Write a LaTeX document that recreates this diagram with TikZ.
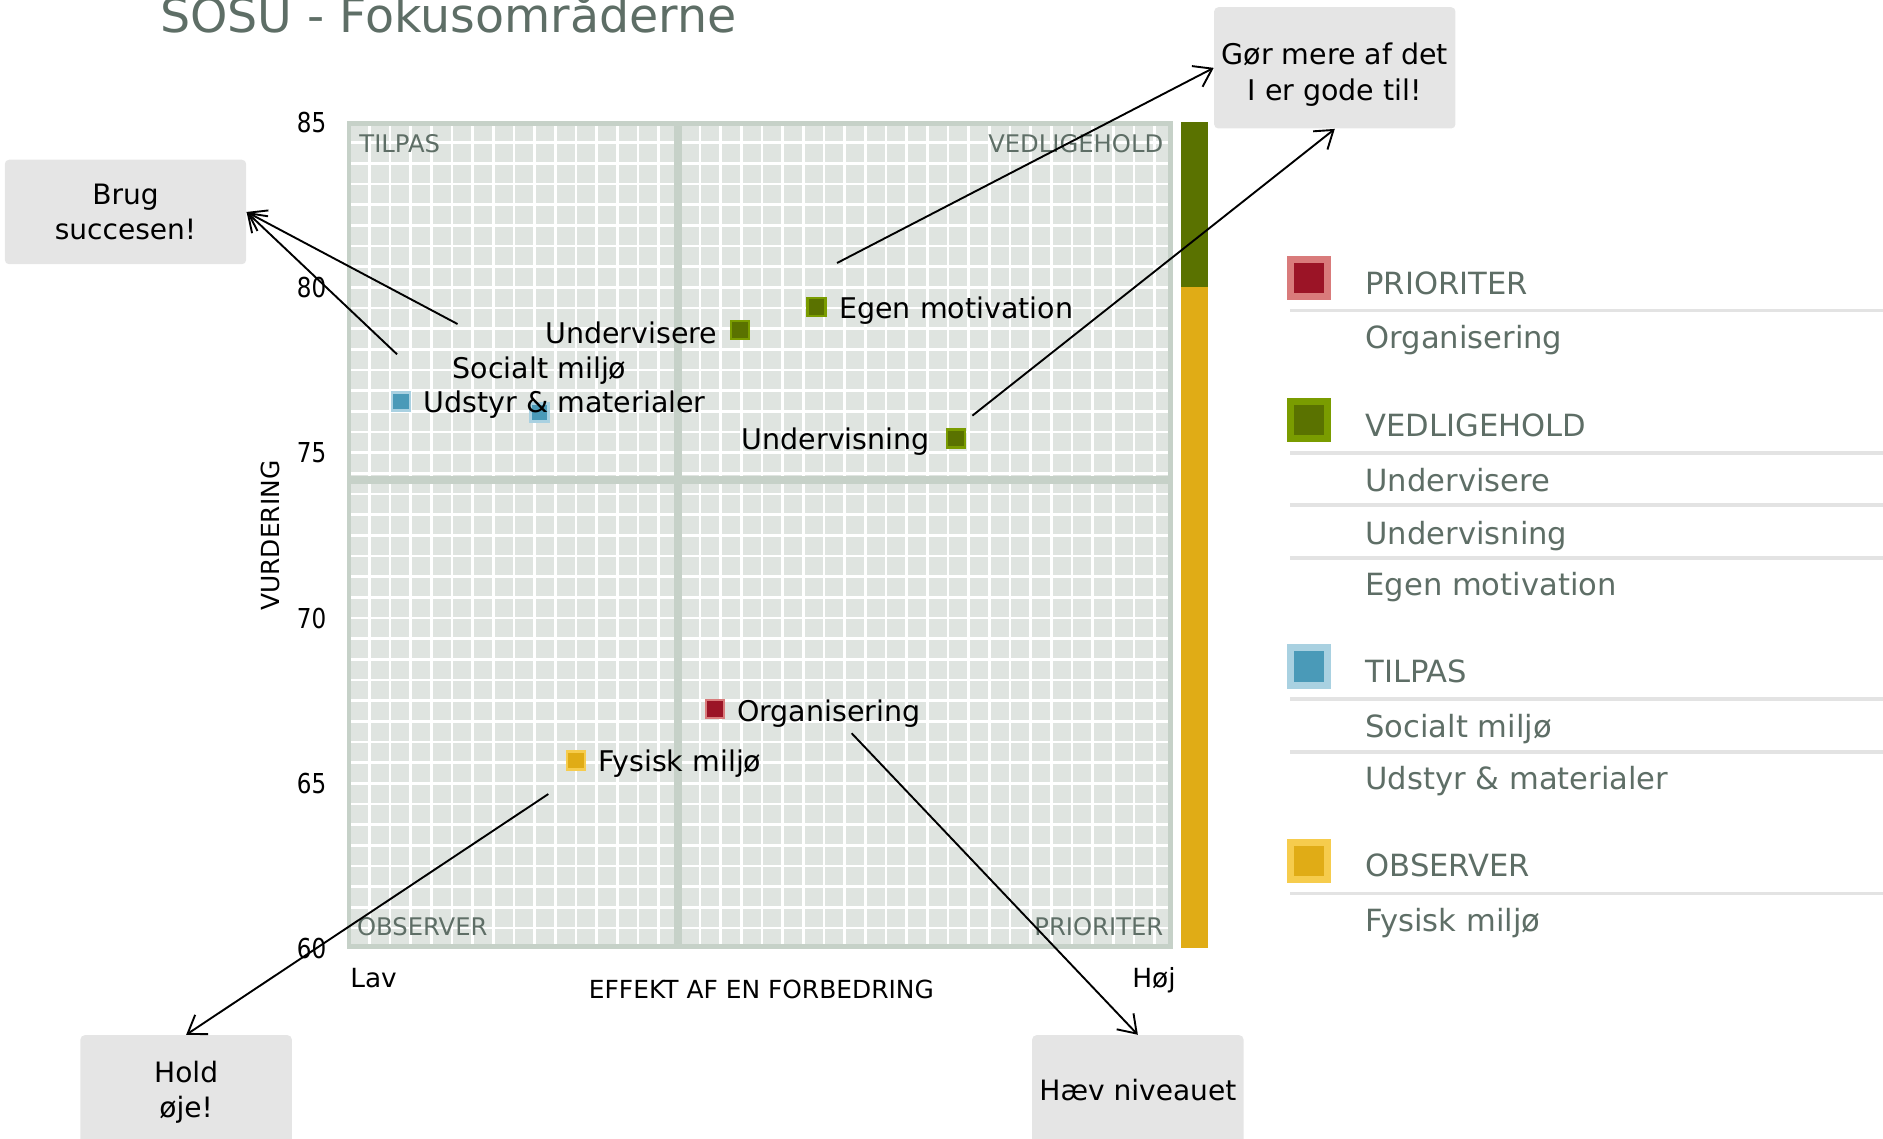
\documentclass[tikz,border=0pt]{standalone}
\usepackage{fontspec}
\setmainfont{DejaVu Sans}
\newfontfamily\narrowfont[FakeStretch=0.84]{DejaVu Sans}
\usetikzlibrary{arrows.meta}
\definecolor{txtgray}{HTML}{5E6E66}
\definecolor{plotbg}{HTML}{DFE4E0}
\definecolor{plotframe}{HTML}{C6D1C8}
\definecolor{boxgray}{HTML}{E5E5E5}
\definecolor{rulegray}{HTML}{E3E3E3}
\definecolor{prired}{HTML}{9B1426}
\definecolor{prirededge}{HTML}{D97B7B}
\definecolor{vedgreen}{HTML}{5A7200}
\definecolor{vedgreenedge}{HTML}{7A9C00}
\definecolor{tilblue}{HTML}{4A9AB8}
\definecolor{tilblueedge}{HTML}{A9D1E1}
\definecolor{obsyellow}{HTML}{E0AC16}
\definecolor{obsyellowedge}{HTML}{F6CC4D}

\begin{document}
\begin{tikzpicture}[x=0.02cm, y=-0.02cm,
            lbl/.style={font=\fontsize{13.5}{17}\selectfont, inner sep=0pt},
            quad/.style={font=\fontsize{11.5}{14}\selectfont, text=txtgray, inner sep=0pt},
            axis/.style={font=\fontsize{11.8}{14}\selectfont, inner sep=0pt},
            legtxt/.style={font=\fontsize{14.5}{17}\selectfont, text=txtgray, inner sep=0pt, anchor=base west},
            callout/.style={fill=boxgray, rounded corners=2pt, inner sep=0pt, align=center,
                            font=\fontsize{13.3}{17}\selectfont},
            sq/.style={draw=#1edge, fill=#1, line width=0.044cm, minimum size=0.3cm, inner sep=0pt},
            legsq/.style={draw=#1edge, fill=#1, line width=0.116cm, minimum size=0.618cm, inner sep=0pt},
            vec/.style={-{Straight Barb[length=8pt,width=11pt]}, line width=0.9pt}
            ]
        \useasboundingbox (0,0) rectangle (1568,948);

        % title
        \node[anchor=base west, inner sep=0pt, text=txtgray, font=\fontsize{22.5}{26}\selectfont]
            (title) at (133,27) {SOSU - Fokusområderne};

        % plot area with grid
        \fill[plotbg] (291,103) rectangle (975,788);
        \foreach \i in {1,...,39} {
            \draw[white, line width=0.044cm] ({290.3+17.21*\i},103) -- ++(0,685);
            \draw[white, line width=0.044cm] (291,{101.6+17.21*\i}) -- ++(684,0);
        }
        \draw[plotframe, line width=0.126cm] (564.5,103) -- (564.5,788)
                                             (291,399.5) -- (975,399.5);
        \draw[plotframe, line width=0.072cm] (290.8,102.8) rectangle (974.7,788.2);

        % side bar
        \fill[vedgreen] (983.3,101.6) rectangle (1006.2,239.3);
        \fill[obsyellow] (983.3,239.3) rectangle (1006.2,789);

        % quadrant names
        \node[quad, anchor=base west] (q-til) at (299,127) {TILPAS};
        \node[quad, anchor=base east] (q-ved) at (969,127) {VEDLIGEHOLD};
        \node[quad, anchor=base west] (q-obs) at (297,778.6) {OBSERVER};
        \node[quad, anchor=base east] (q-pri) at (969,778.6) {PRIORITER};

        % axes
        \foreach \v/\y in {85/101.6, 80/239.3, 75/377, 70/514.7, 65/652.4, 60/790}
            \node[axis, anchor=east, font=\narrowfont\fontsize{13}{15}\selectfont] (y\v) at (272,\y) {\v};
        \node[axis, rotate=90] (ylabel) at (225,446) {VURDERING};
        \node[axis, anchor=base west, font=\fontsize{12.5}{15}\selectfont] (lav) at (291.4,822) {Lav};
        \node[axis, anchor=base west, font=\fontsize{12.5}{15}\selectfont] (hoj) at (942.5,822) {Høj};
        \node[axis, anchor=base] (xlabel) at (634,831.3) {EFFEKT AF EN FORBEDRING};

        % data points
        \node[sq=vedgreen] (p-und) at (616.2,274.8) {};
        \node[sq=vedgreen] (p-egen) at (680,255.6) {};
        \node[sq=vedgreen] (p-undv) at (796,365) {};
        \node[sq=tilblue] (p-udst) at (334,334.5) {};
        \node[sq=tilblue] (p-soc) at (449,343.6) {};
        \node[sq=prired] (p-org) at (595.4,590.4) {};
        \node[sq=obsyellow] (p-fys) at (479.5,633) {};

        \node[lbl, anchor=base east] (l-und) at (597.6,285.9) {Undervisere};
        \node[lbl, anchor=base west] (l-egen) at (698.6,265) {Egen motivation};
        \node[lbl, anchor=base east] (l-undv) at (774.6,374.7) {Undervisning};
        \node[lbl, anchor=base west] (l-soc) at (376.7,315) {Socialt miljø};
        \node[lbl, anchor=base west] (l-udst) at (352.5,343.6) {Udstyr \& materialer};
        \node[lbl, anchor=base west] (l-org) at (613.4,601) {Organisering};
        \node[lbl, anchor=base west] (l-fys) at (498.2,642.6) {Fysisk miljø};

        % callouts
        \node[callout, minimum width=4.02cm, minimum height=2.02cm,
              label={[lbl, align=center, yshift=-0.12cm]center:{Gør mere af det\\I er gode til!}}]
            (gode) at (1111.5,56.5) {};
        \node[callout, minimum width=4.02cm, minimum height=1.74cm] (brug) at (104.5,176.5) {Brug\\succesen!};
        \node[callout, minimum width=3.52cm, minimum height=1.9cm] (hold) at (155,909.5) {Hold\\øje!};
        \node[callout, minimum width=3.52cm, minimum height=1.82cm] (haev) at (947.5,907.5) {Hæv niveauet};

        \path coordinate (a-soc) at (381,269.8)
              coordinate (a-udst) at (330.6,295)
              coordinate (a-egen) at (697,219)
              coordinate (a-undv) at (809.7,346.1)
              coordinate (a-fys) at (456.6,661.2)
              coordinate (a-org) at (709.2,610.6);

        \draw[vec] (a-soc) to (brug.east);
        \draw[vec] (a-udst) to (brug.east);
        \draw[vec] (a-egen) to (gode.west);
        \draw[vec] (a-undv) to (gode.south);
        \draw[vec] (a-fys) to (hold.north);
        \draw[vec] (a-org) to (haev.north);

        % legend
        \foreach \y in {258.5, 377, 420.5, 464.5, 582, 626, 744}
            \draw[rulegray, line width=0.06cm] (1074,\y) -- (1600,\y);

        \node[legsq=prired] (k-pri) at (1090,231.5) {};
        \node[legtxt] (t-pri) at (1136.7,245) {PRIORITER};
        \node[legtxt] (t-org) at (1136.7,290) {Organisering};

        \node[legsq=vedgreen] (k-ved) at (1090,350) {};
        \node[legtxt] (t-ved) at (1136.7,363.6) {VEDLIGEHOLD};
        \node[legtxt] (t-und) at (1136.7,409) {Undervisere};
        \node[legtxt] (t-undv) at (1136.7,453) {Undervisning};
        \node[legtxt] (t-egen) at (1136.7,496) {Egen motivation};

        \node[legsq=tilblue] (k-til) at (1090,555) {};
        \node[legtxt] (t-til) at (1136.7,568) {TILPAS};
        \node[legtxt] (t-soc) at (1136.7,614) {Socialt miljø};
        \node[legtxt] (t-udst) at (1136.7,657) {Udstyr \& materialer};

        \node[legsq=obsyellow] (k-obs) at (1090,717) {};
        \node[legtxt] (t-obs) at (1136.7,730) {OBSERVER};
        \node[legtxt] (t-fys) at (1136.7,776) {Fysisk miljø};
    \end{tikzpicture}
\end{document}
